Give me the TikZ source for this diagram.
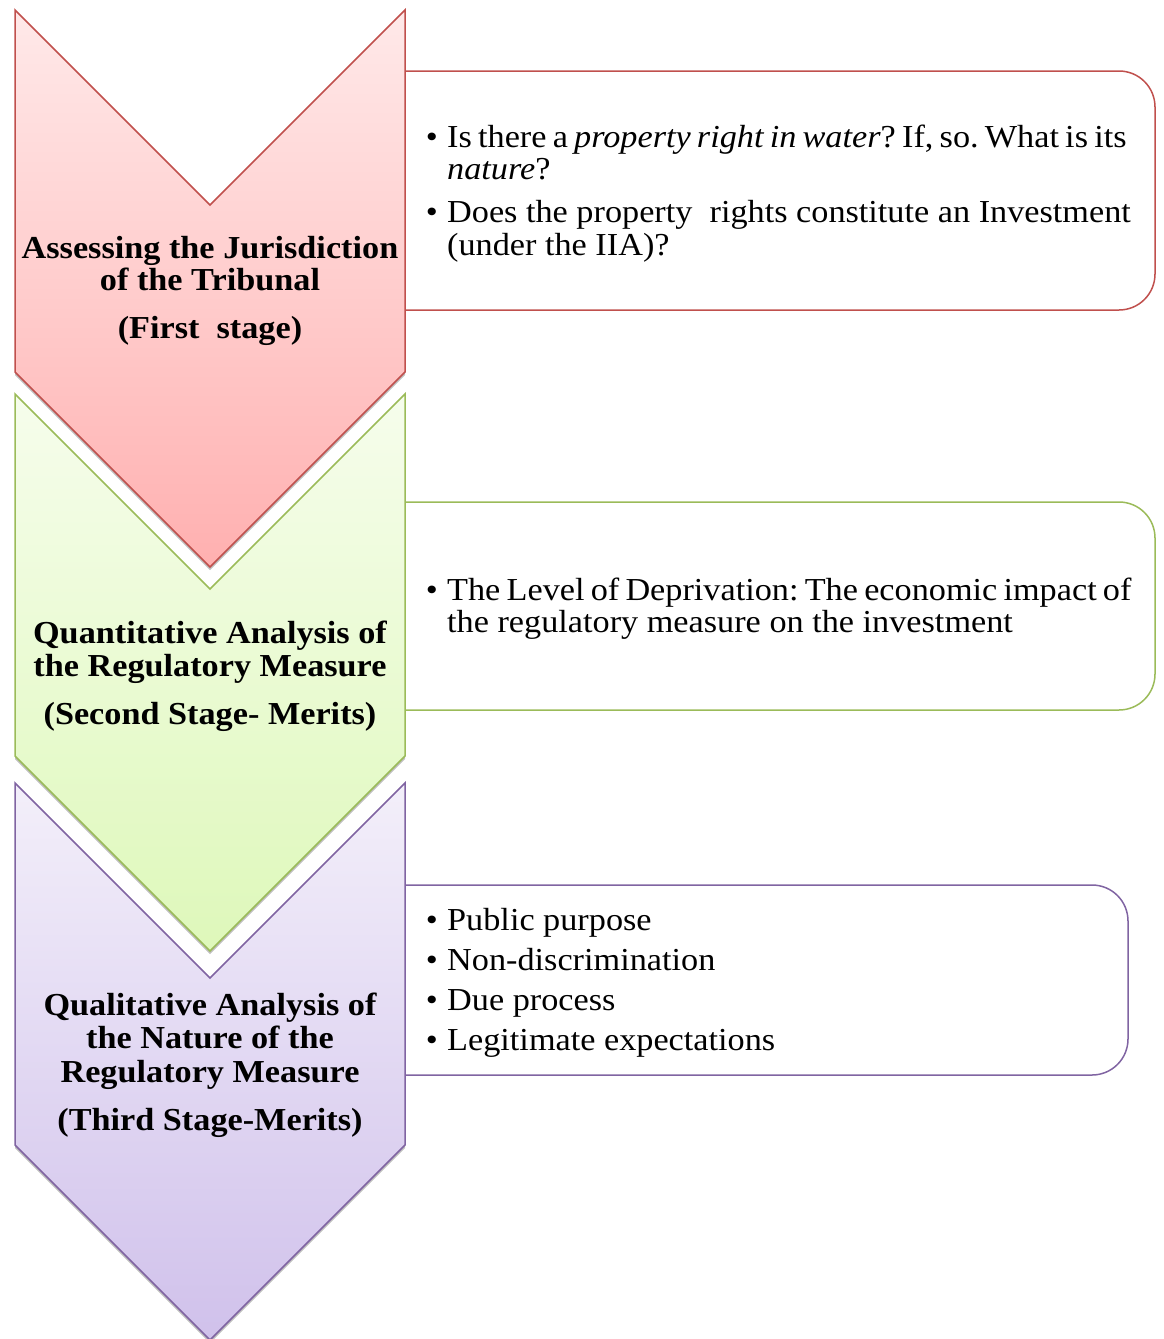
\documentclass[tikz,border=0pt]{standalone}
\usepackage{fontspec}
\setmainfont{Liberation Serif}[FakeStretch=1.07]
\usepackage{xcolor}
\usepackage{tikz}
\usetikzlibrary{shadows}
\frenchspacing
\newcommand\snugspace{\spaceskip=6.2pt plus 1pt\relax}
\definecolor{redline}{RGB}{192,80,77}
\definecolor{redtop}{RGB}{255,233,233}
\definecolor{redbot}{RGB}{255,176,176}
\definecolor{greenline}{RGB}{155,187,89}
\definecolor{greentop}{RGB}{246,253,236}
\definecolor{greenbot}{RGB}{222,248,186}
\definecolor{purpleline}{RGB}{128,100,162}
\definecolor{purpletop}{RGB}{243,239,250}
\definecolor{purplebot}{RGB}{208,193,235}
\tikzset{
  shad/.style={drop shadow={shadow xshift=0pt,shadow yshift=-3pt,opacity=0.25,fill=black}},
  redarrow/.style={shad,draw=redline,line width=1.5pt,top color=redtop,bottom color=redbot},
  greenarrow/.style={shad,draw=greenline,line width=1.5pt,top color=greentop,bottom color=greenbot},
  purplearrow/.style={shad,draw=purpleline,line width=1.5pt,top color=purpletop,bottom color=purplebot},
  panel/.style={line width=1.5pt,rounded corners=36pt},
  heading/.style={anchor=base,inner sep=0pt,font=\fontsize{32}{33}\selectfont\bfseries},
  body/.style={anchor=base west,inner sep=0pt,font=\fontsize{32}{33}\selectfont},
  snug/.style={body,font=\fontsize{32}{33}\selectfont\snugspace},
  dot/.style={anchor=base east,inner sep=0pt,font=\fontsize{32}{33}\selectfont}
}

\begin{document}
\begin{tikzpicture}[x=1pt,y=-1pt]
\useasboundingbox (0,0) rectangle (1163,1339);
% panels
\draw[panel,redline] (405,71) -- (1155,71) -- (1155,310) -- (405,310);
\draw[panel,greenline] (405,502) -- (1155,502) -- (1155,710) -- (405,710);
\draw[panel,purpleline] (405,885) -- (1128,885) -- (1128,1075) -- (405,1075);
% chevrons, last one first
\path[purplearrow] (15,783) -- (210,978) -- (405,783) -- (405,1145) -- (210,1340) -- (15,1145) -- cycle;
\path[greenarrow] (15,394) -- (210,589) -- (405,394) -- (405,756) -- (210,951) -- (15,756) -- cycle;
\path[redarrow] (15,10) -- (210,205) -- (405,10) -- (405,372) -- (210,567) -- (15,372) -- cycle;
% first stage
\node[heading] (h1a) at (210,258) {Assessing the Jurisdiction};
\node[heading] (h1b) at (210,290) {of the Tribunal};
\node[heading] (h1c) at (210,338) {(First\ \ stage)};
\node[dot] (d1a) at (438,147) {\textbullet};
\node[snug] (t1a) at (447,147) {Is there a \textit{property right in water}? If, so. What is its};
\node[body] (t1b) at (447,179) {\textit{nature}?};
\node[dot] (d1b) at (438,222) {\textbullet};
\node[body] (t1c) at (447,222) {Does the property\ \ rights constitute an Investment};
\node[body] (t1d) at (447,255) {(under the IIA)?};
% second stage
\node[heading] (h2a) at (210,643) {Quantitative Analysis of};
\node[heading] (h2b) at (210,676) {the Regulatory Measure};
\node[heading] (h2c) at (210,724) {(Second Stage- Merits)};
\node[dot] (d2a) at (438,600) {\textbullet};
\node[snug] (t2a) at (447,600) {The Level of Deprivation: The economic impact of};
\node[body] (t2b) at (447,632) {the regulatory measure on the investment};
% third stage
\node[heading] (h3a) at (210,1015) {Qualitative Analysis of};
\node[heading] (h3b) at (210,1048) {the Nature of the};
\node[heading] (h3c) at (210,1082) {Regulatory Measure};
\node[heading] (h3d) at (210,1130) {(Third Stage-Merits)};
\node[dot] (d3a) at (438,930) {\textbullet};
\node[body] (t3a) at (447,930) {Public purpose};
\node[dot] (d3b) at (438,970) {\textbullet};
\node[body] (t3b) at (447,970) {Non-discrimination};
\node[dot] (d3c) at (438,1010) {\textbullet};
\node[body] (t3c) at (447,1010) {Due process};
\node[dot] (d3d) at (438,1050) {\textbullet};
\node[body] (t3d) at (447,1050) {Legitimate expectations};
\end{tikzpicture}
\end{document}
